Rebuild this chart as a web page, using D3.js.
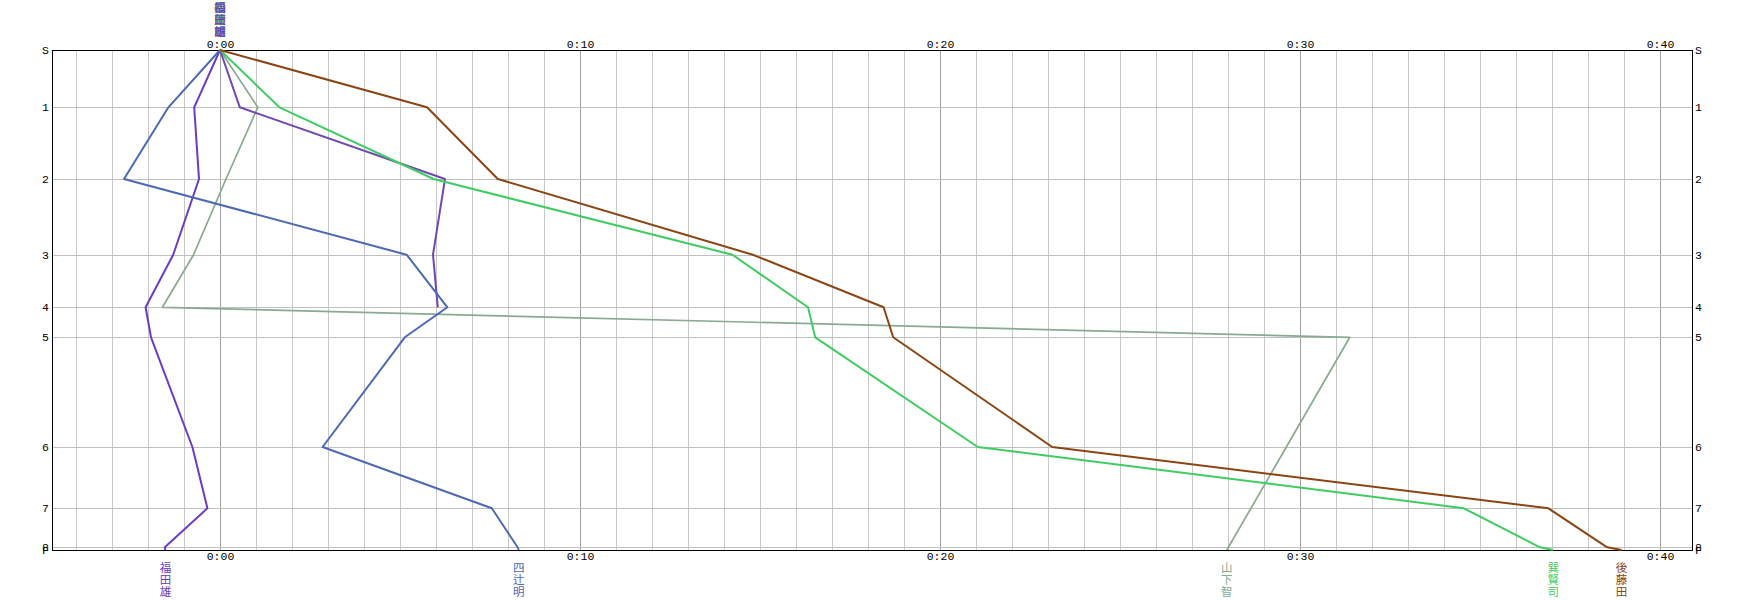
<!DOCTYPE html>
<html>
<head>
<meta charset="utf-8">
<script src="https://cdn.jsdelivr.net/npm/d3@7"></script>
<style>
  html, body { margin: 0; padding: 0; background: #fff; }
  svg { display: block; }
</style>
</head>
<body>
<svg id="chart" width="1744" height="600"></svg>
<script>
// ---- Data ----
// Controls (legs) and their cumulative position along the course (vertical axis)
const controls = ["S", "1", "2", "3", "4", "5", "6", "7", "8", "F"];
const controlDist = [0, 573, 1290, 2047, 2573, 2873, 3970, 4583, 4973, 5000];

// Time difference (seconds) vs. reference at each control; null = no split
const runnerNames = ["福田雄", "四辻明", "山下智", "巽賢司", "後藤田", ""];
const fukuda    = [0, -43, -35, -78, -124, -115, -46, -21, -92, -91];
const yotsuji   = [0, -86, -160, 311, 379, 308, 171, 453, 496, 498];
const yamashita = [0, 63, 10, -44, -96, 1883, null, null, null, 1678];
const tatsumi   = [0, 99, 356, 854, 980, 992, 1263, 2073, 2200, 2222];
const gotoda    = [0, 345, 463, 888, 1106, 1122, 1387, 2214, 2312, 2336];
const dnfRunner = [0, 33, 375, 355, 363, null, null, null, null, null];

// x tick labels (every 10 minutes)
const tickSeconds = [0, 600, 1200, 1800, 2400];
const tickLabels = ["0:00", "0:10", "0:20", "0:30", "0:40"];

const runnerColors = ["#6a3cc4", "#4d69b4", "#88aa90", "#3fcc62", "#8b4513", "#7048b0"];
const seriesValues = [fukuda, yotsuji, yamashita, tatsumi, gotoda, dnfRunner];

// ---- Layout ----
const svg = d3.select("#chart");
const mLeft = 52, mRight = 1692, mTop = 50, mBottom = 550;

const x = d3.scaleLinear().domain([-280, 2453.33]).range([mLeft, mRight]);
const y = d3.scaleLinear().domain([0, 5000]).range([mTop, mBottom]);

svg.append("rect").attr("width", 1744).attr("height", 600).attr("fill", "#fff");

// vertical minute gridlines
const minuteLines = d3.range(-240, 2453, 60);
svg.append("g").selectAll("line").data(minuteLines).join("line")
  .attr("x1", d => Math.round(x(d)) + 0.5).attr("x2", d => Math.round(x(d)) + 0.5)
  .attr("y1", mTop).attr("y2", mBottom)
  .attr("stroke", d => d % 600 === 0 ? "#a0a0a0" : "#c8c8c8")
  .attr("stroke-width", 1);

// horizontal control gridlines
svg.append("g").selectAll("line").data(controlDist).join("line")
  .attr("x1", mLeft).attr("x2", mRight)
  .attr("y1", d => Math.round(y(d)) + 0.5).attr("y2", d => Math.round(y(d)) + 0.5)
  .attr("stroke", "#c0c0c0")
  .attr("stroke-width", 1);

// frame
svg.append("rect")
  .attr("x", mLeft + 0.5).attr("y", mTop + 0.5)
  .attr("width", mRight - mLeft).attr("height", mBottom - mTop)
  .attr("fill", "none").attr("stroke", "#000").attr("stroke-width", 1);

// axes
const fmt = d => tickLabels[tickSeconds.indexOf(d)];
const styleAxis = g => {
  g.select(".domain").remove();
  g.selectAll("text").attr("font-family", "'Liberation Mono', 'DejaVu Sans Mono', monospace")
    .attr("font-size", 11.5).attr("fill", "#000");
};
svg.append("g").attr("transform", `translate(0,${mTop})`)
  .call(d3.axisTop(x).tickValues(tickSeconds).tickFormat(fmt).tickSize(0).tickPadding(2))
  .call(styleAxis);
svg.append("g").attr("transform", `translate(0,${mBottom})`)
  .call(d3.axisBottom(x).tickValues(tickSeconds).tickFormat(fmt).tickSize(0).tickPadding(2))
  .call(styleAxis);
const cfmt = d => controls[controlDist.indexOf(d)];
svg.append("g").attr("transform", `translate(${mLeft},0)`)
  .call(d3.axisLeft(y).tickValues(controlDist).tickFormat(cfmt).tickSize(0).tickPadding(3))
  .call(styleAxis);
svg.append("g").attr("transform", `translate(${mRight},0)`)
  .call(d3.axisRight(y).tickValues(controlDist).tickFormat(cfmt).tickSize(0).tickPadding(3))
  .call(styleAxis);

// lines
const line = d3.line().x(d => x(d.v)).y(d => y(d.d));
const drawOrder = [2, 5, 0, 1, 3, 4];
drawOrder.forEach(i => {
  const pts = seriesValues[i]
    .map((v, k) => ({ v, d: controlDist[k] }))
    .filter(p => p.v !== null);
  svg.append("path")
    .datum(pts)
    .attr("d", line)
    .attr("fill", "none")
    .attr("stroke", runnerColors[i])
    .attr("stroke-width", i === 2 ? 1.7 : 2)
    .attr("stroke-linejoin", "round");
});

// vertical name labels (single text element written top-to-bottom)
function verticalLabel(name, cx, y0, color) {
  svg.append("text")
    .attr("x", cx).attr("y", y0)
    .attr("text-anchor", "start")
    .attr("font-family", "'Noto Sans CJK JP', sans-serif")
    .attr("font-size", 11.5)
    .attr("letter-spacing", 0.8)
    .attr("fill", color)
    .style("writing-mode", "vertical-rl")
    .style("text-orientation", "upright")
    .text(name);
}
// labels at start (top) – overlapping, as in the original
[4, 3, 2, 1, 0].forEach(i => {
  const vals = seriesValues[i];
  verticalLabel(runnerNames[i], x(vals[0]), 1.5, runnerColors[i]);
});
// labels at finish (bottom)
[0, 1, 2, 3, 4].forEach(i => {
  const vals = seriesValues[i];
  verticalLabel(runnerNames[i], x(vals[vals.length - 1]), 561.5, runnerColors[i]);
});
</script>
</body>
</html>
